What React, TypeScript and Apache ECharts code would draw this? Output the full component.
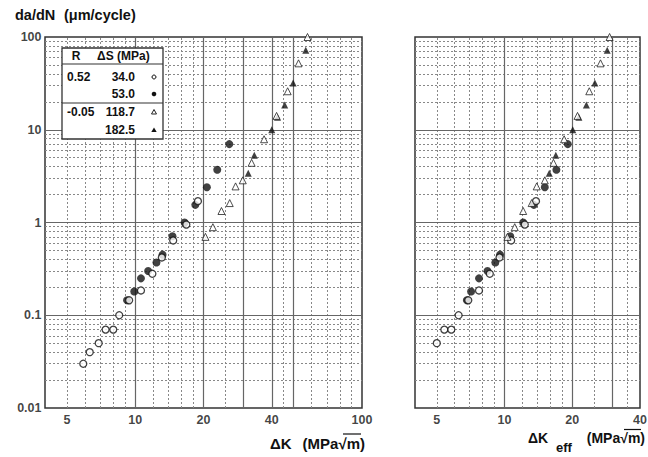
import React, { useEffect, useRef } from "react";
import * as echarts from "echarts";

// ---------------- data ----------------
// Left panel: da/dN vs ΔK
const dkOpen34 = [5.9, 6.3, 6.9, 7.4, 8.0, 8.5, 9.4, 10.6, 11.9, 13.1, 14.7, 16.8, 18.9];
const dadnOpen34 = [0.03, 0.04, 0.05, 0.07, 0.07, 0.1, 0.145, 0.185, 0.28, 0.42, 0.64, 0.95, 1.7];

const dkFilled53 = [9.2, 9.9, 10.6, 11.4, 12.4, 13.2, 14.6, 16.5, 18.4, 20.7, 23.0, 26.0];
const dadnFilled53 = [0.145, 0.18, 0.25, 0.3, 0.37, 0.45, 0.71, 1.0, 1.55, 2.4, 3.7, 7.0];

const dkOpen118 = [20.4, 22.0, 24.0, 26.1, 27.7, 29.8, 32.6, 37.0, 42.0, 47.0, 52.5, 57.5];
const dadnOpen118 = [0.7, 0.89, 1.33, 1.62, 2.45, 2.85, 4.4, 7.9, 14.1, 26, 52, 100];

const dkFilled182 = [31.5, 33.5, 40.0, 42.4, 45.6, 49.7, 56.5];
const dadnFilled182 = [3.4, 5.3, 10, 13.6, 18.5, 32, 72];

// Right panel: da/dN vs ΔKeff
const dkeffOpen34 = [5.0, 5.4, 5.8, 6.25, 6.9, 7.7, 8.6, 9.5, 10.7, 12.3, 13.8];
const dadnEffOpen34 = [0.05, 0.07, 0.07, 0.1, 0.145, 0.185, 0.28, 0.42, 0.64, 0.95, 1.7];

const dkeffFilled53 = [6.8, 7.1, 7.7, 8.4, 9.1, 9.55, 10.6, 12.1, 13.5, 15.1, 17.0, 19.1];
const dadnEffFilled53 = [0.145, 0.18, 0.25, 0.3, 0.37, 0.45, 0.71, 1.0, 1.55, 2.4, 3.7, 7.0];

const dkeffOpen118 = [10.3, 11.1, 12.1, 13.2, 13.9, 15.1, 16.5, 18.4, 21.1, 23.8, 26.7, 29.3];
const dadnEffOpen118 = [0.7, 0.89, 1.33, 1.62, 2.45, 2.85, 4.4, 7.9, 14.1, 26, 52, 100];

const dkeffFilled182 = [15.8, 16.9, 20.1, 21.4, 23.1, 25.2, 28.6];
const dadnEffFilled182 = [3.4, 5.3, 10, 13.6, 18.5, 32, 72];

// ticks
const yTicks = [0.01, 0.1, 1, 10, 100];
const yTickLabels = ["0.01", "0.1", "1", "10", "100"];
const xTicksLeft = [5, 10, 20, 40, 100];
const xTicksRight = [5, 10, 20, 40];

// grid lines
const yMajor = [0.1, 1, 10];
const yMinorMultipliers = [2, 3, 4, 5, 6, 7, 8, 9];
const yDecades = [0.01, 0.1, 1, 10];
const xMajorLeft = [10, 20, 30, 40, 50];
const xMinorLeft = [5, 6, 7, 8, 9, 12, 14, 16, 18, 25, 45, 60, 70, 80, 90];
const xMajorRight = [10, 20, 30];
const xMinorRight = [5, 6, 7, 8, 9, 12, 14, 16, 18, 25, 35];

// legend table
const legendR = ["0.52", "", "-0.05", ""];
const legendDS = ["34.0", "53.0", "118.7", "182.5"];

const FONT = "'Liberation Sans', Arial, Helvetica, sans-serif";

const pts = (xs: number[], ys: number[]) => xs.map((x, i) => [x, ys[i]]);

const styleOpenCircle = {
  symbol: "circle",
  symbolSize: 7,
  itemStyle: { color: "#fff", borderColor: "#111", borderWidth: 1.3 },
};
const styleFilledCircle = {
  symbol: "circle",
  symbolSize: 8,
  itemStyle: { color: "#111" },
};
const styleOpenTri = {
  symbol: "triangle",
  symbolSize: 7,
  itemStyle: { color: "#fff", borderColor: "#222", borderWidth: 1 },
};
const styleFilledTri = {
  symbol: "triangle",
  symbolSize: 7,
  itemStyle: { color: "#111" },
};

const dotted = { color: "#888", width: 1, type: [2, 2] as any };
const solid = { color: "#666", width: 1.2, type: "solid" };

const yMinor: number[] = [];
yDecades.forEach((d) => yMinorMultipliers.forEach((m) => yMinor.push(+(d * m).toPrecision(3))));

function gridLineSeries(gi: number, xMinor: number[], xMajor: number[], xTicks: number[], xMin: number, showY: boolean) {
  const lines: any[] = [
    ...yMinor.map((v) => ({ yAxis: v, lineStyle: dotted })),
    ...xMinor.map((v) => ({ xAxis: v, lineStyle: dotted })),
    ...yMajor.map((v) => ({ yAxis: v, lineStyle: solid })),
    ...xMajor.map((v) => ({ xAxis: v, lineStyle: solid })),
  ];
  const out: any[] = [
    {
      type: "scatter",
      xAxisIndex: gi,
      yAxisIndex: gi,
      z: 1,
      silent: true,
      clip: false,
      symbolSize: 1,
      itemStyle: { color: "rgba(0,0,0,0)" },
      data: xTicks.map((v) => ({ name: String(v), value: [v, 0.01] })),
      label: {
        show: true,
        position: "bottom",
        distance: 5,
        formatter: (p: any) => p.name,
        fontFamily: FONT,
        fontWeight: "bold",
        fontSize: 12.5,
        color: "#111",
      },
      markLine: {
        silent: true,
        symbol: ["none", "none"],
        label: { show: false },
        animation: false,
        data: lines,
      },
    },
  ];
  if (showY) {
    out.push({
      type: "scatter",
      xAxisIndex: gi,
      yAxisIndex: gi,
      z: 1,
      silent: true,
      clip: false,
      symbolSize: 1,
      itemStyle: { color: "rgba(0,0,0,0)" },
      data: yTicks.map((v, i) => ({ name: yTickLabels[i], value: [xMin, v] })),
      label: {
        show: true,
        position: "left",
        distance: 3,
        formatter: (p: any) => p.name,
        fontFamily: FONT,
        fontWeight: "bold",
        fontSize: 12.5,
        color: "#111",
      },
    });
  }
  return out;
}

function dataSeries(gi: number, sets: [number[], number[], any][]) {
  return sets.map(([xs, ys, st]) => ({
    type: "scatter",
    xAxisIndex: gi,
    yAxisIndex: gi,
    z: 5,
    clip: false,
    data: pts(xs, ys),
    ...st,
  }));
}

const hiddenAxis = {
  axisLine: { show: false },
  axisTick: { show: false },
  axisLabel: { show: false },
  splitLine: { show: false },
};

const txt = (x: number, y: number, text: string, opts: any = {}) => ({
  type: "text",
  x,
  y,
  z: 20,
  style: {
    text,
    fill: "#111",
    font: `bold ${opts.size || 12}px ${FONT}`,
    textAlign: opts.align || "left",
    textVerticalAlign: "middle",
  },
});

const legendRowsY = [77, 94, 112, 130];

const option: any = {
  animation: false,
  backgroundColor: "#fff",
  grid: [
    { left: 45, top: 37, width: 317, height: 371, show: true, borderColor: "#333", borderWidth: 1.5, backgroundColor: "transparent", outerBoundsMode: "none", containLabel: false },
    { left: 415, top: 37, width: 225, height: 371, show: true, borderColor: "#333", borderWidth: 1.5, backgroundColor: "transparent", outerBoundsMode: "none", containLabel: false },
  ],
  xAxis: [
    { type: "log", logBase: 10, gridIndex: 0, min: 4, max: 100, ...hiddenAxis },
    { type: "log", logBase: 10, gridIndex: 1, min: 4, max: 40, ...hiddenAxis },
  ],
  yAxis: [
    { type: "log", logBase: 10, gridIndex: 0, min: 0.01, max: 100, ...hiddenAxis },
    { type: "log", logBase: 10, gridIndex: 1, min: 0.01, max: 100, ...hiddenAxis },
  ],
  series: [
    ...gridLineSeries(0, xMinorLeft, xMajorLeft, xTicksLeft, 4, true),
    ...gridLineSeries(1, xMinorRight, xMajorRight, xTicksRight, 4, false),
    ...dataSeries(0, [
      [dkFilled53, dadnFilled53, styleFilledCircle],
      [dkOpen34, dadnOpen34, styleOpenCircle],
      [dkFilled182, dadnFilled182, styleFilledTri],
      [dkOpen118, dadnOpen118, styleOpenTri],
    ]),
    ...dataSeries(1, [
      [dkeffFilled53, dadnEffFilled53, styleFilledCircle],
      [dkeffOpen34, dadnEffOpen34, styleOpenCircle],
      [dkeffFilled182, dadnEffFilled182, styleFilledTri],
      [dkeffOpen118, dadnEffOpen118, styleOpenTri],
    ]),
  ],
  graphic: [
    // title
    txt(15, 15, "da/dN", { size: 14.5 }),
    txt(64, 15, "(μm/cycle)", { size: 14.5 }),
    // axis titles
    txt(270, 443, "ΔK", { size: 15 }),
    txt(365, 443, "(MPa√m)", { size: 15, align: "right" }),
    { type: "line", z: 20, shape: { x1: 343, y1: 434, x2: 361, y2: 434 }, style: { stroke: "#111", lineWidth: 1.2 } },
    txt(528, 438, "ΔK", { size: 14 }),
    txt(556, 447, "eff", { size: 13 }),
    txt(645, 438, "(MPa√m)", { size: 14, align: "right" }),
    { type: "line", z: 20, shape: { x1: 624, y1: 429.5, x2: 641, y2: 429.5 }, style: { stroke: "#111", lineWidth: 1.2 } },
    // legend box
    { type: "rect", z: 15, shape: { x: 62, y: 48, width: 101, height: 91 }, style: { fill: "#fff", stroke: "#333", lineWidth: 1.3 } },
    { type: "line", z: 16, shape: { x1: 62, y1: 64, x2: 163, y2: 64 }, style: { stroke: "#333", lineWidth: 1.2 } },
    { type: "line", z: 16, shape: { x1: 62, y1: 103, x2: 163, y2: 103 }, style: { stroke: "#333", lineWidth: 1.2 } },
    txt(76, 56, "R", { align: "center" }),
    txt(97, 56, "ΔS (MPa)"),
    ...legendR.map((t, i) => txt(67, legendRowsY[i], t)),
    ...legendDS.map((t, i) => txt(135, legendRowsY[i], t, { align: "right" })),
    { type: "circle", z: 20, shape: { cx: 154, cy: 77, r: 2 }, style: { fill: "#fff", stroke: "#111", lineWidth: 1 } },
    { type: "circle", z: 20, shape: { cx: 154, cy: 94, r: 2.3 }, style: { fill: "#111" } },
    { type: "polygon", z: 20, shape: { points: [[154, 109.5], [151.5, 114], [156.5, 114]] }, style: { fill: "#fff", stroke: "#222", lineWidth: 1 } },
    { type: "polygon", z: 20, shape: { points: [[154, 127.5], [151.3, 132], [156.7, 132]] }, style: { fill: "#111" } },
  ],
};

export default function App() {
  const ref = useRef<HTMLDivElement>(null);
  useEffect(() => {
    document.body.style.margin = "0";
    const chart = echarts.init(ref.current!, null, { renderer: "svg" });
    chart.setOption(option);
    return () => chart.dispose();
  }, []);
  return <div ref={ref} style={{ width: 648, height: 457, background: "#fff" }} />;
}
